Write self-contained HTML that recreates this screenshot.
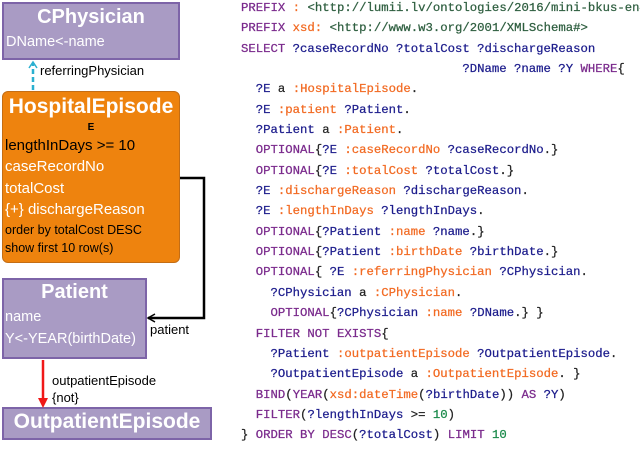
<!DOCTYPE html>
<html><head><meta charset="utf-8"><style>
body{margin:0;width:640px;height:468px;background:#fff;position:relative;overflow:hidden;font-family:"Liberation Sans",sans-serif}
.b{position:absolute;box-sizing:border-box}
.t{position:absolute;white-space:nowrap}
.w{color:#fff}
pre{position:absolute;left:241px;top:-2px;margin:0;font-family:"Liberation Mono",monospace;font-size:12.3px;line-height:20.35px;color:#1c1c8c;-webkit-text-stroke:0.25px}
.k{color:#7a2a8c}.o{color:#f26a22}.g{color:#2f5f40}.n{color:#1a8a4a}.x{color:#222}
</style></head><body>
<div class="b" style="left:2px;top:2px;width:178px;height:58px;background:#a99bc4;border:2px solid #7d64a8"></div>
<div class="t w" style="left:2px;width:178px;text-align:center;top:6px;font-size:20px;font-weight:bold">CPhysician</div>
<div class="t w" style="left:6px;top:34px;font-size:14.5px">DName&lt;-name</div>

<div class="b" style="left:2px;top:91px;width:178px;height:172px;background:#ee830e;border:1.5px solid #c46d14;border-radius:6px"></div>
<div class="t w" style="left:2px;width:178px;text-align:center;top:95px;font-size:21px;font-weight:bold">HospitalEpisode</div>
<div class="t" style="left:2px;width:178px;text-align:center;top:122px;font-size:10px;font-weight:bold">E</div>
<div class="t" style="left:5px;top:137px;font-size:15px">lengthInDays &gt;= 10</div>
<div class="t w" style="left:5px;top:158px;font-size:15px">caseRecordNo</div>
<div class="t w" style="left:5px;top:180px;font-size:15px">totalCost</div>
<div class="t w" style="left:5px;top:201px;font-size:15px">{+} dischargeReason</div>
<div class="t" style="left:5px;top:223px;font-size:12.5px">order by totalCost DESC</div>
<div class="t" style="left:5px;top:241px;font-size:12.5px">show first 10 row(s)</div>

<div class="b" style="left:2px;top:278px;width:145px;height:81px;background:#a99bc4;border:2px solid #7d64a8"></div>
<div class="t w" style="left:2px;width:145px;text-align:center;top:281px;font-size:20px;font-weight:bold">Patient</div>
<div class="t w" style="left:5px;top:309px;font-size:14.5px">name</div>
<div class="t w" style="left:5px;top:331px;font-size:14.5px">Y&lt;-YEAR(birthDate)</div>

<div class="b" style="left:2px;top:407px;width:210px;height:33px;background:#a99bc4;border:2px solid #7d64a8"></div>
<div class="t w" style="left:2px;width:210px;text-align:center;top:410px;font-size:21px;font-weight:bold">OutpatientEpisode</div>

<svg width="640" height="468" style="position:absolute;left:0;top:0">
<line x1="33" y1="90" x2="33" y2="63" stroke="#2ab0d0" stroke-width="2.5" stroke-dasharray="5,3"/>
<polyline points="29,68 33,62 37,68" fill="none" stroke="#2ab0d0" stroke-width="1.5"/>
<polyline points="180,178 204,178 204,318 148,318" fill="none" stroke="#000" stroke-width="2.5"/>
<polyline points="155,314 148,318 155,322" fill="none" stroke="#000" stroke-width="1.5"/>
<line x1="43" y1="360" x2="43" y2="402" stroke="#f01818" stroke-width="2.5"/>
<polygon points="38,398 43,408 48,398" fill="#f01818"/>
</svg>
<div class="t" style="left:40px;top:63px;font-size:13px">referringPhysician</div>
<div class="t" style="left:150px;top:322px;font-size:13px">patient</div>
<div class="t" style="left:52px;top:373px;font-size:13px">outpatientEpisode</div>
<div class="t" style="left:52px;top:390px;font-size:13px">{not}</div>

<pre><span class="k">PREFIX</span> <span class="o">:</span> <span class="g">&lt;http://lumii.lv/ontologies/2016/mini-bkus-en#&gt;</span>
<span class="k">PREFIX</span> <span class="o">xsd:</span> <span class="g">&lt;http://www.w3.org/2001/XMLSchema#&gt;</span>
<span class="k">SELECT</span> ?caseRecordNo ?totalCost ?dischargeReason
                              ?DName ?name ?Y <span class="k">WHERE</span><span class="x">{</span>
  ?E <span class="x">a</span> <span class="o">:HospitalEpisode</span><span class="x">.</span>
  ?E <span class="o">:patient</span> ?Patient<span class="x">.</span>
  ?Patient <span class="x">a</span> <span class="o">:Patient</span><span class="x">.</span>
  <span class="k">OPTIONAL</span><span class="x">{</span>?E <span class="o">:caseRecordNo</span> ?caseRecordNo<span class="x">.}</span>
  <span class="k">OPTIONAL</span><span class="x">{</span>?E <span class="o">:totalCost</span> ?totalCost<span class="x">.}</span>
  ?E <span class="o">:dischargeReason</span> ?dischargeReason<span class="x">.</span>
  ?E <span class="o">:lengthInDays</span> ?lengthInDays<span class="x">.</span>
  <span class="k">OPTIONAL</span><span class="x">{</span>?Patient <span class="o">:name</span> ?name<span class="x">.}</span>
  <span class="k">OPTIONAL</span><span class="x">{</span>?Patient <span class="o">:birthDate</span> ?birthDate<span class="x">.}</span>
  <span class="k">OPTIONAL</span><span class="x">{</span> ?E <span class="o">:referringPhysician</span> ?CPhysician<span class="x">.</span>
    ?CPhysician <span class="x">a</span> <span class="o">:CPhysician</span><span class="x">.</span>
    <span class="k">OPTIONAL</span><span class="x">{</span>?CPhysician <span class="o">:name</span> ?DName<span class="x">.} }</span>
  <span class="k">FILTER NOT EXISTS</span><span class="x">{</span>
    ?Patient <span class="o">:outpatientEpisode</span> ?OutpatientEpisode<span class="x">.</span>
    ?OutpatientEpisode <span class="x">a</span> <span class="o">:OutpatientEpisode</span><span class="x">. }</span>
  <span class="k">BIND</span><span class="x">(</span><span class="k">YEAR</span><span class="x">(</span><span class="o">xsd:dateTime</span><span class="x">(</span>?birthDate<span class="x">))</span> <span class="k">AS</span> ?Y<span class="x">)</span>
  <span class="k">FILTER</span><span class="x">(</span>?lengthInDays <span class="x">&gt;=</span> <span class="n">10</span><span class="x">)</span>
<span class="x">}</span> <span class="k">ORDER BY DESC</span><span class="x">(</span>?totalCost<span class="x">)</span> <span class="k">LIMIT</span> <span class="n">10</span></pre>
</body></html>
